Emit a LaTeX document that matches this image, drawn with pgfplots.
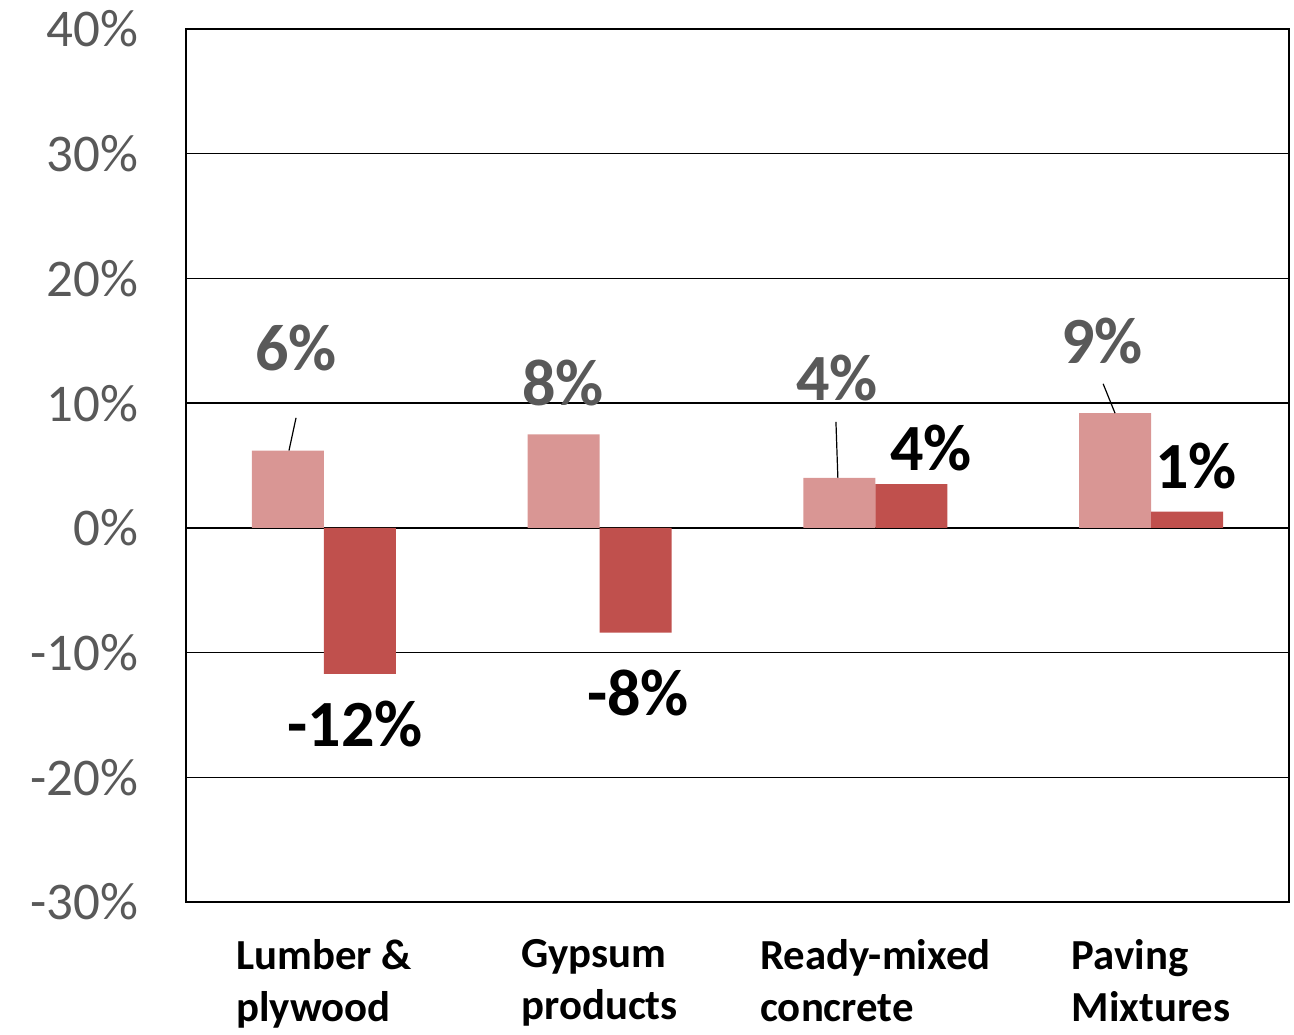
\documentclass[border=0pt]{standalone}
\usepackage{pgfplots}
\pgfplotsset{compat=1.18}
\usepackage{fontspec}
\setmainfont{Carlito}

\definecolor{tickgray}{HTML}{595959}
\definecolor{lightred}{HTML}{D99694}
\definecolor{darkred}{HTML}{C0504D}

\pgfplotstableread{
x  first  second
0   6.2   -11.7
1   7.5    -8.4
2   4.0     3.5
3   9.2     1.3
}\changes

\begin{document}
\begin{tikzpicture}
\useasboundingbox (-93pt,-66pt) rectangle (554pt,451pt);
\begin{axis}[
  at={(0,0)}, anchor=south west,
  width=551.5pt, height=436.5pt, scale only axis,
  ybar=0pt, bar width=36pt,
  xmin=-0.5, xmax=3.5,
  ymin=-30, ymax=40,
  xtick={0,1,2,3},
  xticklabels={Lumber \&\\plywood, Gypsum\\products, Ready-mixed\\concrete, Paving\\Mixtures},
  ytick={-30,-20,...,40},
  yticklabels={-30\%,-20\%,-10\%,0\%,10\%,20\%,30\%,40\%},
  major tick length=0pt,
  axis line style={black, line width=0.9pt},
  ymajorgrids, grid style={black, line width=0.7pt},
  yticklabel style={text=tickgray, font=\fontsize{26.5}{30}\selectfont, anchor=east, xshift=-20.5pt},
  xticklabel style={text=black, font=\fontsize{21.4}{26}\selectfont\bfseries, align=left, anchor=north, yshift=-15pt},
  clip=false,
]
\addplot[fill=lightred, draw=none] table[x=x, y=first] {\changes};
\addplot[fill=darkred, draw=none] table[x=x, y=second] {\changes};

% value labels for the first series
\begin{scope}[every node/.style={font=\fontsize{33}{36}\selectfont\bfseries, text=tickgray}]
\node at (axis cs:-0.101,14.43) {6\%};
\node at (axis cs:0.867,11.63) {8\%};
\node at (axis cs:1.861,12.03) {4\%};
\node at (axis cs:2.822,15.0) {9\%};
\end{scope}
% value labels for the second series
\begin{scope}[every node/.style={font=\fontsize{33}{36}\selectfont\bfseries, text=black}]
\node at (axis cs:0.113,-15.72) {-12\%};
\node at (axis cs:1.139,-13.23) {-8\%};
\node at (axis cs:2.202,6.42) {4\%};
\node at (axis cs:3.163,4.97) {1\%};
\end{scope}
% leader lines
\draw[black, line width=0.6pt] (axis cs:-0.1265,6.2) -- (axis cs:-0.101,8.82);
\draw[black, line width=0.6pt] (axis cs:1.864,4.0) -- (axis cs:1.857,8.50);
\draw[black, line width=0.6pt] (axis cs:2.869,9.2) -- (axis cs:2.826,11.55);
\end{axis}
\end{tikzpicture}
\end{document}
